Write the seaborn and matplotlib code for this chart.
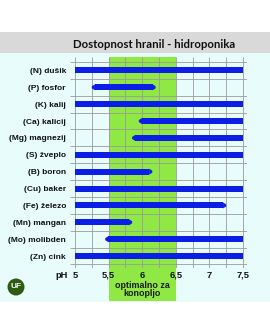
import matplotlib
matplotlib.use("Agg")
import matplotlib.pyplot as plt
import matplotlib.transforms as mtrans
import seaborn as sns
import numpy as np
from matplotlib.patches import Rectangle, Polygon, Ellipse

categories = ["(N) dušik", "(P) fosfor", "(K) kalij", "(Ca) kalicij", "(Mg) magnezij",
              "(S) žveplo", "(B) boron", "(Cu) baker", "(Fe) železo", "(Mn) mangan",
              "(Mo) molibden", "(Zn) cink"]
start = [5.0, 5.25, 5.0, 5.95, 5.85, 5.0, 5.0, 5.0, 5.0, 5.0, 5.45, 5.0]
end = [7.5, 6.2, 7.5, 7.5, 7.5, 7.5, 6.15, 7.5, 7.25, 5.85, 7.5, 7.5]
xticks = [5, 5.5, 6, 6.5, 7, 7.5]
xticklabels = ["5", "5,5", "6", "6,5", "7", "7,5"]
optimal = (5.5, 6.5)
title = "Dostopnost hranil - hidroponika"
optimal_label = "optimalno za\nkonopljo"

sns.set_style("white")
plt.rcParams["font.family"] = ["Liberation Sans", "DejaVu Sans"]

W, H = 270, 334
fig = plt.figure(figsize=(W / 100, H / 100), dpi=100)
fig.patch.set_facecolor("white")

# background bands
fig.patches.append(Rectangle((0, 1 - 53 / H), 1, 21 / H, transform=fig.transFigure,
                             facecolor="#d9d9d9", edgecolor="none", zorder=-5))
fig.patches.append(Rectangle((0, 1 - 302 / H), 1, 249 / H, transform=fig.transFigure,
                             facecolor="#e9fcfc", edgecolor="none", zorder=-5))
fig.text(154 / W, 1 - 44 / H, title, ha="center", va="center", fontsize=8.2,
         fontweight="bold", family=["Lato", "DejaVu Sans"], color="#111111")

ax = fig.add_axes([70 / W, (H - 268) / H, 177 / W, 211 / H])
ax.set_facecolor("none")
ax.set_zorder(2)

blue = "#0a1ee6"
bar_h = 0.36
widths = [e - s for s, e in zip(start, end)]
sns.barplot(x=widths, y=categories, orient="h", color=blue, width=bar_h,
            saturation=1, ax=ax, zorder=3)

tip = 0.045
xmin_full, xmax_full = min(start), max(end)
for i, p in enumerate(ax.patches):
    s, e = start[i], end[i]
    s_eff = s + tip if s > xmin_full else s
    e_eff = e - tip if e < xmax_full else e
    p.set_x(s_eff)
    p.set_width(e_eff - s_eff)
    p.set_edgecolor("none")
    if s > xmin_full:
        ax.add_patch(Polygon([(s_eff + 0.002, i - bar_h / 2), (s, i - bar_h / 6),
                              (s, i + bar_h / 6), (s_eff + 0.002, i + bar_h / 2)],
                             closed=True, facecolor=blue, edgecolor="none", zorder=3))
    if e < xmax_full:
        ax.add_patch(Polygon([(e_eff - 0.002, i - bar_h / 2), (e, i - bar_h / 6),
                              (e, i + bar_h / 6), (e_eff - 0.002, i + bar_h / 2)],
                             closed=True, facecolor=blue, edgecolor="none", zorder=3))

x_lo, x_hi = 4.9256, 7.5595
y_top, y_bot = -0.797, 11.71
ax.set_xlim(x_lo, x_hi)
ax.set_ylim(y_bot, y_top)

# optimal band
ax.axvspan(optimal[0], optimal[1], ymin=-0.156, ymax=1.0, facecolor="#90e844",
           edgecolor="none", zorder=0, clip_on=False)

# grid
grid_x = np.arange(5.0, 7.51, 0.25)
ax.vlines(grid_x, y_top, y_bot, color="#9a9a9a", lw=0.6, zorder=1)
ax.hlines(np.arange(-0.5, len(categories), 1.0), x_lo, x_hi, color="#9a9a9a", lw=0.6, zorder=1)

for sp in ax.spines.values():
    sp.set_visible(False)

ax.set_xlabel("")
ax.set_ylabel("")
ax.set_yticks(range(len(categories)))
ax.set_yticklabels(categories, fontsize=6.0, fontweight="bold", color="#111111")
ax.set_xticks(xticks)
ax.set_xticklabels(xticklabels, fontsize=6.7, fontweight="bold", color="#111111")
ax.tick_params(axis="y", length=0, pad=2.9)
ax.tick_params(axis="x", length=0, pad=1.8)

fig.text(61.5 / W, 1 - 275 / H, "pH", ha="center", va="center", fontsize=6.7,
         fontweight="bold", color="#111111")
ax.text(np.mean(optimal), 1 - 289.5 / H, optimal_label,
        transform=mtrans.blended_transform_factory(ax.transData, fig.transFigure),
        ha="center", va="center", fontsize=6.4, fontweight="bold", color="#1a1a1a",
        linespacing=0.85, clip_on=False)

# logo
fig.patches.append(Ellipse((16 / W, 1 - 287 / H), 17 / W, 17 / H, transform=fig.transFigure,
                           facecolor="#2f5a12", edgecolor="none", zorder=-4))
fig.text(16 / W, 1 - 287 / H, "UF", ha="center", va="center", fontsize=6,
         fontweight="bold", color="white")

fig.savefig("out.png", dpi=100)
